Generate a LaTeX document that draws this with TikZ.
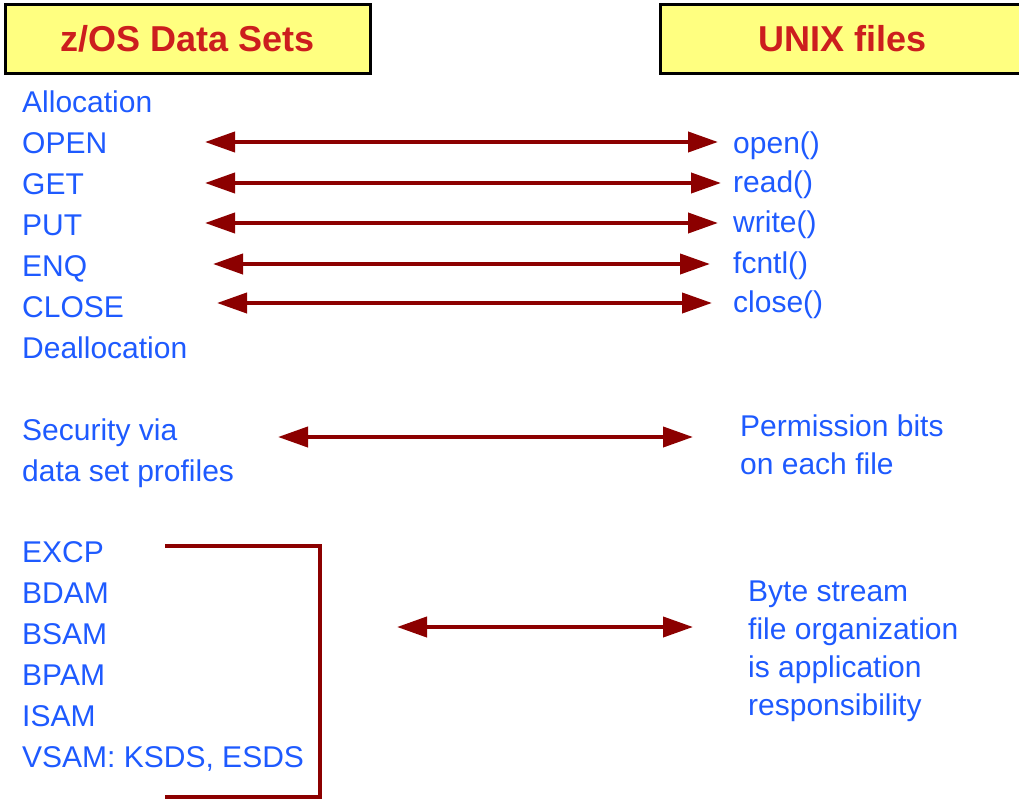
\documentclass[tikz,border=0pt]{standalone}
\usepackage{fontspec}
\setmainfont{Liberation Sans}
\usetikzlibrary{arrows.meta}

\definecolor{hdryellow}{RGB}{255,255,128}
\definecolor{hdrred}{RGB}{204,30,30}
\definecolor{txtblue}{RGB}{30,90,255}
\definecolor{arrred}{RGB}{140,0,0}

\begin{document}
\begin{tikzpicture}[x=1pt, y=-1pt,
  header/.style={draw=black, line width=3pt, fill=hdryellow, text=hdrred,
                 minimum width=365pt, minimum height=68pt, inner sep=0pt,
                 font=\fontsize{36}{42}\selectfont\bfseries},
  item/.style={anchor=base west, text=txtblue, inner sep=0pt,
               font=\fontsize{30}{36}\selectfont},
  link/.style={arrred, line width=4pt,
               {Triangle[length=30pt,width=20pt]}-{Triangle[length=30pt,width=20pt]}},
  bracket/.style={arrred, line width=3.5pt, line join=miter}]

\useasboundingbox (0,0) rectangle (1019,800);

% headers
\node[header] (zos) at (187.5,39) {z/OS Data Sets};
\node[header] (unix) at (842.5,39) {UNIX files};

% left column
\node[item] (alloc) at (22,112) {Allocation};
\node[item] (open)  at (22,153) {OPEN};
\node[item] (get)   at (22,194) {GET};
\node[item] (put)   at (22,235) {PUT};
\node[item] (enq)   at (22,276) {ENQ};
\node[item] (close) at (22,317) {CLOSE};
\node[item] (dealloc) at (22,358) {Deallocation};

\node[item] (sec1) at (22,440) {Security via};
\node[item] (sec2) at (22,481) {data set profiles};

\node[item] (excp) at (22,562) {EXCP};
\node[item] (bdam) at (22,603) {BDAM};
\node[item] (bsam) at (22,644) {BSAM};
\node[item] (bpam) at (22,685) {BPAM};
\node[item] (isam) at (22,726) {ISAM};
\node[item] (vsam) at (22,767) {VSAM: KSDS, ESDS};

% right column
\node[item] (uopen)  at (733,153) {open()};
\node[item] (uread)  at (733,192) {read()};
\node[item] (uwrite) at (733,232) {write()};
\node[item] (ufcntl) at (733,273) {fcntl()};
\node[item] (uclose) at (733,312) {close()};

\node[item] (perm1) at (740,436) {Permission bits};
\node[item] (perm2) at (740,474) {on each file};

\node[item] (byte1) at (748,601) {Byte stream};
\node[item] (byte2) at (748,639) {file organization};
\node[item] (byte3) at (748,677) {is application};
\node[item] (byte4) at (748,715) {responsibility};

% arrow ends
\coordinate (open l)  at (205,142);
\coordinate (open r)  at (718,142);
\coordinate (get l)   at (205,183);
\coordinate (get r)   at (721,183);
\coordinate (put l)   at (205,223);
\coordinate (put r)   at (718,223);
\coordinate (enq l)   at (213,264);
\coordinate (enq r)   at (710,264);
\coordinate (close l) at (217,303);
\coordinate (close r) at (712,303);
\coordinate (sec l)   at (278,437);
\coordinate (sec r)   at (693,437);
\coordinate (org l)   at (397,627);
\coordinate (org r)   at (693,627);

\draw[link] (open l) -- (open r);
\draw[link] (get l) -- (get r);
\draw[link] (put l) -- (put r);
\draw[link] (enq l) -- (enq r);
\draw[link] (close l) -- (close r);
\draw[link] (sec l) -- (sec r);
\draw[link] (org l) -- (org r);

% bracket round the access methods
\coordinate (bk top) at (165,546);
\coordinate (bk bot) at (165,797);
\draw[bracket] (bk top) -- ++(155,0) -- ++(0,251) -- (bk bot);

\end{tikzpicture}
\end{document}
